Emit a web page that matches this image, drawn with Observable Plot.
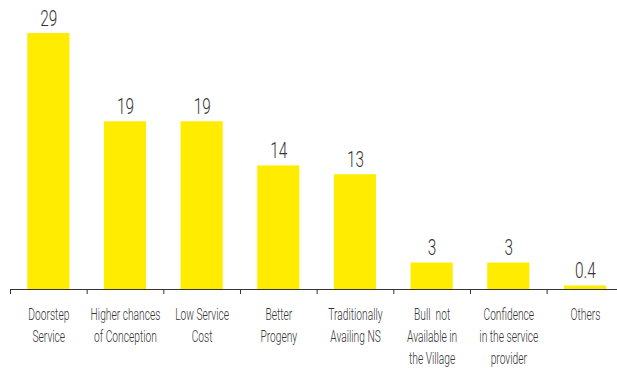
<!DOCTYPE html>
<html>
<head>
<meta charset="utf-8">
<script src="https://cdn.jsdelivr.net/npm/d3@7"></script>
<script src="https://cdn.jsdelivr.net/npm/@observablehq/plot@0.6"></script>
<style>
  html, body { margin: 0; padding: 0; background: #fff; }
  #chart svg { display: block; }
</style>
</head>
<body>
<div id="chart"></div>
<script>
const categories = [
  "Doorstep\nService",
  "Higher chances\nof Conception",
  "Low Service\nCost",
  "Better\nProgeny",
  "Traditionally\nAvailing NS",
  "Bull  not\nAvailable in\nthe Village",
  "Confidence\nin the service\nprovider",
  "Others"
];
const values = [29, 19, 19, 14, 13, 3, 3, 0.4];
const valueLabels = ["29", "19", "19", "14", "13", "3", "3", "0.4"];

const data = categories.map((c, i) => ({cat: c, value: values[i], label: valueLabels[i]}));

const W = 617, H = 368;
const x0 = 10, x1 = 623.3;
const step = (x1 - x0) / categories.length;
const FONT = "Roboto, 'Liberation Sans', Arial, sans-serif";

const chart = Plot.plot({
  width: W,
  height: H,
  marginLeft: 10,
  marginRight: 0,
  marginTop: 0,
  marginBottom: 0,
  style: {fontFamily: FONT, background: "#fff"},
  x: {domain: categories, range: [x0, x1], paddingInner: 0.45, paddingOuter: 0.225, round: false, axis: null},
  y: {domain: [0, 29], range: [289, 33], axis: null},
  marks: [
    Plot.barY(data, {x: "cat", y: "value", fill: "#FFEC00"}),
    Plot.ruleY([0], {stroke: "#333", strokeWidth: 1.2}),
    Plot.ruleX(data, {x: "cat", y1: 0, y2: 0, insetBottom: -5, dx: -step / 2, stroke: "#333", strokeWidth: 1}),
    Plot.text(data, {x: "cat", y: "value", text: "label", lineAnchor: "bottom", dy: -8, fontSize: 22, fontWeight: 300, fill: "#333"}),
    Plot.text(data, {x: "cat", y: 0, text: "cat", lineAnchor: "top", dy: 15, fontSize: 16.5, fontWeight: 300, lineHeight: 1.34, fill: "#333"})
  ]
});

// condense text horizontally around its anchor
d3.select(chart).selectAll("text").each(function() {
  const t = d3.select(this);
  const fs = +(t.attr("font-size") || (this.parentNode && this.parentNode.getAttribute("font-size")) || 16);
  const s = fs > 18 ? 0.7 : 0.62;
  const tr = t.attr("transform");
  if (tr) {
    t.attr("transform", tr + ` scale(${s},1)`);
  } else {
    const x = +(t.attr("x") || 0), y = +(t.attr("y") || 0);
    t.attr("x", null).attr("y", null).attr("transform", `translate(${x},${y}) scale(${s},1)`);
  }
});

document.getElementById("chart").appendChild(chart);
</script>
</body>
</html>
